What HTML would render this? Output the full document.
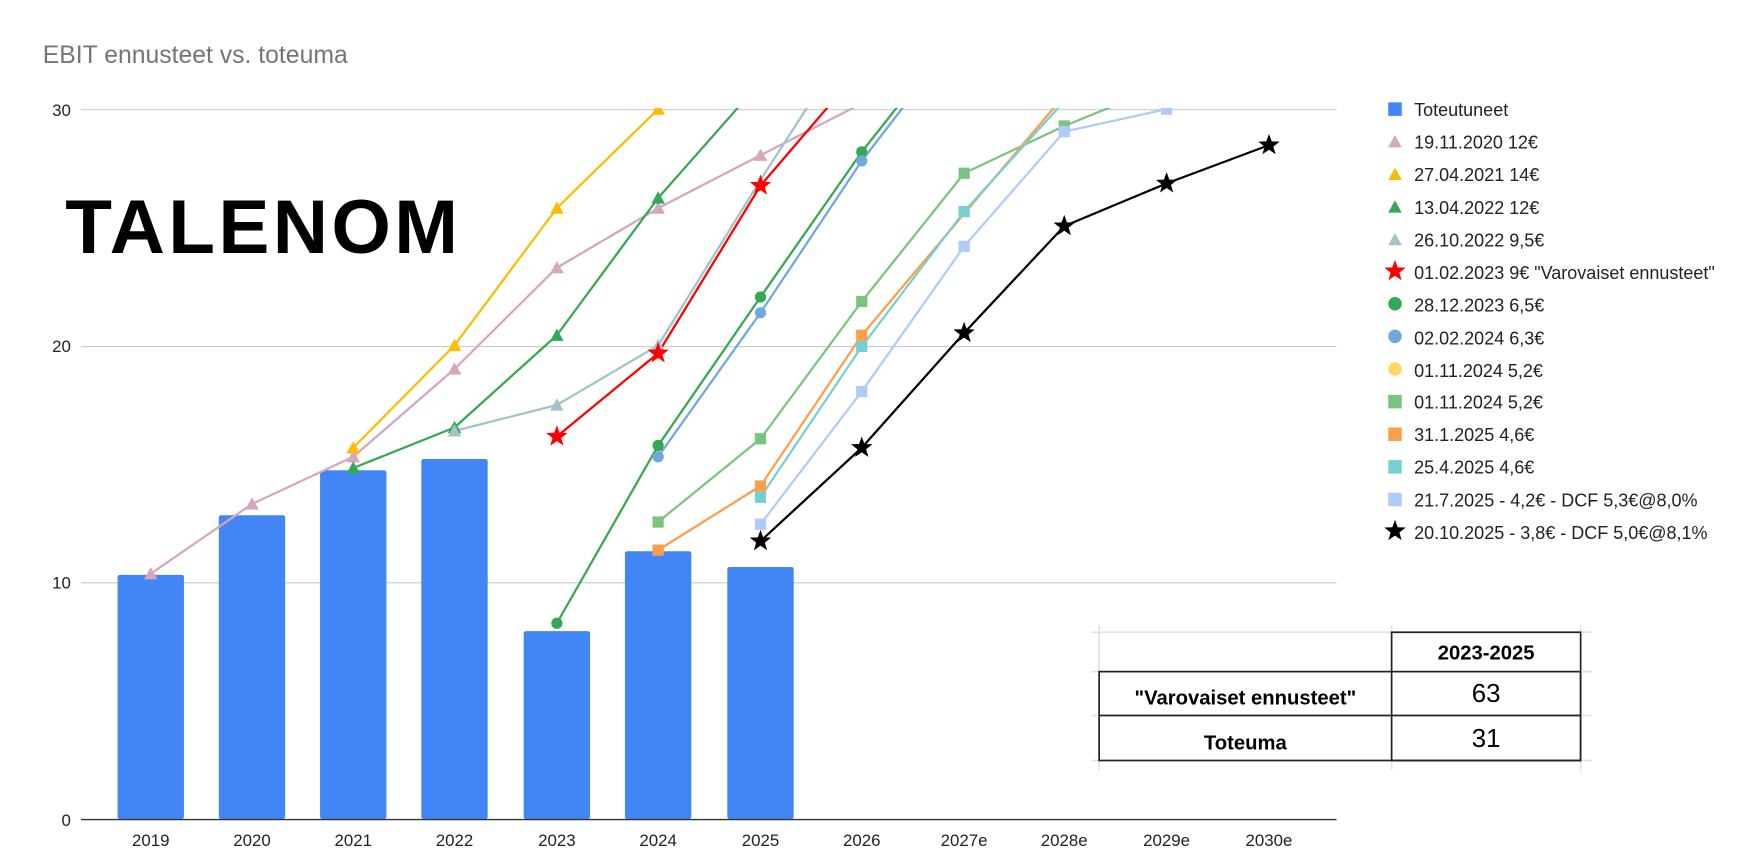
<!DOCTYPE html>
<html><head><meta charset="utf-8"><style>
html,body{margin:0;padding:0;background:#fff;width:1764px;height:861px;overflow:hidden}
svg{display:block}
text{font-family:"Liberation Sans",Arial,sans-serif}
</style></head><body>
<svg width="1764" height="861" viewBox="0 0 1568 765.33" xmlns="http://www.w3.org/2000/svg">
<defs>
<clipPath id="pc"><rect x="60" y="96" width="1140" height="640"/></clipPath>
<polygon id="tri" points="0,-6 6,5 -6,5"/>
<polygon id="star" points="0,-10 2.4,-3.3 9.5,-3.1 3.9,1.3 5.9,8.1 0,4.1 -5.9,8.1 -3.9,1.3 -9.5,-3.1 -2.4,-3.3"/>
<rect id="sq" x="-5" y="-5" width="10" height="10"/>
<circle id="ci" r="5"/>
</defs>
<text x="38" y="56" font-size="22" fill="#757575">EBIT ennusteet vs. toteuma</text>
<!-- grid -->
<g stroke="#ccc" stroke-width="1">
<line x1="72" x2="1188" y1="97.5" y2="97.5"/>
<line x1="72" x2="1188" y1="308" y2="308"/>
<line x1="72" x2="1188" y1="518" y2="518"/>
</g>
<g font-size="15" fill="#222" text-anchor="end">
<text x="63" y="103">30</text><text x="63" y="313">20</text><text x="63" y="523">10</text><text x="63" y="734">0</text>
</g>
<!-- logo -->
<text x="58" y="225" font-size="68" font-weight="bold" fill="#000" letter-spacing="3">TALENOM</text>
<!-- bars -->
<g fill="#4285f4">
<rect x="104.5" y="511" width="59" height="217" rx="2"/>
<rect x="194.5" y="458" width="59" height="270" rx="2"/>
<rect x="284.5" y="418" width="59" height="310" rx="2"/>
<rect x="374.5" y="408" width="59" height="320" rx="2"/>
<rect x="465.5" y="561" width="59" height="167" rx="2"/>
<rect x="555.5" y="490" width="59" height="238" rx="2"/>
<rect x="646.5" y="504" width="59" height="224" rx="2"/>
</g>
<line x1="72" x2="1188" y1="728.5" y2="728.5" stroke="#333" stroke-width="1.2"/>
<g font-size="15" fill="#222" text-anchor="middle">
<text x="134" y="752">2019</text><text x="224" y="752">2020</text><text x="314" y="752">2021</text><text x="404" y="752">2022</text><text x="495" y="752">2023</text><text x="585" y="752">2024</text><text x="676" y="752">2025</text><text x="766" y="752">2026</text><text x="857" y="752">2027e</text><text x="946" y="752">2028e</text><text x="1037" y="752">2029e</text><text x="1128" y="752">2030e</text>
</g>
<g clip-path="url(#pc)" fill="none" stroke-width="2" stroke-linejoin="round">
<polyline stroke="#d5a6bd" points="134,510 224,448 314,406 404,328 495,238 585,185 676,138 766,92"/>
<polyline stroke="#fbbc04" points="314,398 404,307 495,185 585,97 676,-10"/>
<polyline stroke="#34a853" points="314,416 404,380 495,298 585,176 676,73"/>
<polyline stroke="#a2c4c9" points="404,383 495,360 585,307 676,160 766,20"/>
<polyline stroke="#ff0000" points="495,388 585,314 676,165 766,60"/>
<polyline stroke="#34a853" points="495,554 585,396 676,264 766,135 857,20"/>
<polyline stroke="#6fa8dc" points="585,406 676,278 766,143 857,25"/>
<polyline stroke="#7bc47f" points="585,464 676,390 766,268 857,154 946,112 1037,75"/>
<polyline stroke="#ff9e4a" points="585,489 676,432 766,298 857,190 946,85"/>
<polyline stroke="#76d0d3" points="676,442 766,308 857,188 946,90"/>
<polyline stroke="#aecbfa" points="676,466 766,348 857,219 946,117 1037,97"/>
<polyline stroke="#000" points="676,481 766,398 857,296 946,201 1037,163 1128,129"/>
</g>
<g clip-path="url(#pc)">
<g fill="#d5a6bd"><use href="#tri" x="134" y="510"/><use href="#tri" x="224" y="448"/><use href="#tri" x="314" y="406"/><use href="#tri" x="404" y="328"/><use href="#tri" x="495" y="238"/><use href="#tri" x="585" y="185"/><use href="#tri" x="676" y="138"/></g>
<g fill="#fbbc04"><use href="#tri" x="314" y="398"/><use href="#tri" x="404" y="307"/><use href="#tri" x="495" y="185"/><use href="#tri" x="585" y="97"/></g>
<g fill="#34a853"><use href="#tri" x="314" y="416"/><use href="#tri" x="404" y="380"/><use href="#tri" x="495" y="298"/><use href="#tri" x="585" y="176"/></g>
<g fill="#a2c4c9"><use href="#tri" x="404" y="383"/><use href="#tri" x="495" y="360"/><use href="#tri" x="585" y="307"/></g>
<g fill="#ff0000"><use href="#star" x="495" y="388"/><use href="#star" x="585" y="314"/><use href="#star" x="676" y="165"/></g>
<g fill="#34a853"><use href="#ci" x="495" y="554"/><use href="#ci" x="585" y="396"/><use href="#ci" x="676" y="264"/><use href="#ci" x="766" y="135"/></g>
<g fill="#6fa8dc"><use href="#ci" x="585" y="406"/><use href="#ci" x="676" y="278"/><use href="#ci" x="766" y="143"/></g>
<g fill="#7bc47f"><use href="#sq" x="585" y="464"/><use href="#sq" x="676" y="390"/><use href="#sq" x="766" y="268"/><use href="#sq" x="857" y="154"/><use href="#sq" x="946" y="112"/></g>
<g fill="#ff9e4a"><use href="#sq" x="585" y="489"/><use href="#sq" x="676" y="432"/><use href="#sq" x="766" y="298"/></g>
<g fill="#76d0d3"><use href="#sq" x="676" y="442"/><use href="#sq" x="766" y="308"/><use href="#sq" x="857" y="188"/></g>
<g fill="#aecbfa"><use href="#sq" x="676" y="466"/><use href="#sq" x="766" y="348"/><use href="#sq" x="857" y="219"/><use href="#sq" x="946" y="117"/><use href="#sq" x="1037" y="97"/></g>
<g fill="#000"><use href="#star" x="676" y="481"/><use href="#star" x="766" y="398"/><use href="#star" x="857" y="296"/><use href="#star" x="946" y="201"/><use href="#star" x="1037" y="163"/><use href="#star" x="1128" y="129"/></g>
</g>
<!-- legend -->
<g font-size="16" fill="#222">
<rect x="1234" y="91" width="12" height="12" fill="#4285f4"/><text x="1257" y="103">Toteutuneet</text>
<use href="#tri" x="1240" y="126" fill="#d5a6bd"/><text x="1257" y="132">19.11.2020 12€</text>
<use href="#tri" x="1240" y="155" fill="#fbbc04"/><text x="1257" y="161">27.04.2021 14€</text>
<use href="#tri" x="1240" y="184" fill="#34a853"/><text x="1257" y="190">13.04.2022 12€</text>
<use href="#tri" x="1240" y="213" fill="#a2c4c9"/><text x="1257" y="219">26.10.2022 9,5€</text>
<use href="#star" x="1240" y="241" fill="#ff0000" transform="translate(0,0)"/><text x="1257" y="248">01.02.2023 9€ "Varovaiset ennusteet"</text>
<circle cx="1240" cy="270" r="6" fill="#34a853"/><text x="1257" y="277">28.12.2023 6,5€</text>
<circle cx="1240" cy="299" r="6" fill="#6fa8dc"/><text x="1257" y="306">02.02.2024 6,3€</text>
<circle cx="1240" cy="328" r="6" fill="#fdd663"/><text x="1257" y="335">01.11.2024 5,2€</text>
<rect x="1234" y="351" width="12" height="12" fill="#7bc47f"/><text x="1257" y="363">01.11.2024 5,2€</text>
<rect x="1234" y="380" width="12" height="12" fill="#ff9e4a"/><text x="1257" y="392">31.1.2025 4,6€</text>
<rect x="1234" y="409" width="12" height="12" fill="#76d0d3"/><text x="1257" y="421">25.4.2025 4,6€</text>
<rect x="1234" y="438" width="12" height="12" fill="#aecbfa"/><text x="1257" y="450">21.7.2025 - 4,2€ -  DCF 5,3€@8,0%</text>
<use href="#star" x="1240" y="472" fill="#000"/><text x="1257" y="479">20.10.2025 - 3,8€ - DCF 5,0€@8,1%</text>
</g>
<!-- table -->
<g stroke="#e3e3e3" stroke-width="1.5" fill="none">
<line x1="970" x2="1415" y1="562" y2="562"/>
<line x1="970" x2="977" y1="597" y2="597"/><line x1="1405" x2="1415" y1="597" y2="597"/>
<line x1="970" x2="977" y1="636" y2="636"/><line x1="1405" x2="1415" y1="636" y2="636"/>
<line x1="970" x2="977" y1="676" y2="676"/><line x1="1405" x2="1415" y1="676" y2="676"/>
<line x1="977" x2="977" y1="556" y2="597"/>
<line x1="977" x2="977" y1="676" y2="685"/><line x1="1237" x2="1237" y1="676" y2="685"/><line x1="1405" x2="1405" y1="676" y2="685"/>
<line x1="1237" x2="1237" y1="556" y2="562"/><line x1="1405" x2="1405" y1="556" y2="562"/>
</g>
<g stroke="#222" stroke-width="1.5" fill="none">
<rect x="1237" y="562" width="168" height="114"/>
<rect x="977" y="597" width="428" height="79"/>
<line x1="977" x2="1405" y1="636" y2="636"/>
</g>
<g font-size="18" fill="#000" text-anchor="middle" font-weight="bold">
<text x="1321" y="586">2023-2025</text>
<text x="1107" y="626">"Varovaiset ennusteet"</text>
<text x="1107" y="666">Toteuma</text>
</g>
<g font-size="23" fill="#000" text-anchor="middle">
<text x="1321" y="624">63</text>
<text x="1321" y="664">31</text>
</g>
</svg>
</body></html>
